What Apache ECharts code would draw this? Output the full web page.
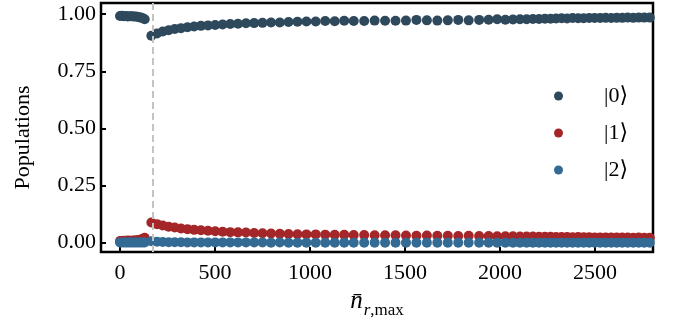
<!DOCTYPE html>
<html>
<head>
<meta charset="utf-8">
<script src="https://cdn.jsdelivr.net/npm/echarts@6/dist/echarts.min.js"></script>
<style>
  html, body { margin: 0; padding: 0; background: #fff; }
  #chart { width: 673px; height: 326px; }
</style>
</head>
<body>
<div id="chart"></div>
<script>
// Mean readout photon number (x) for each measurement
const nBar = [
  0, 10, 20, 30, 40, 50, 60, 70, 80, 90, 100, 110, 120, 130,
  165, 195, 225, 256, 288, 321, 355, 390, 426, 463, 501, 540, 580, 621, 663, 706,
  750, 795, 841, 887, 934, 981, 1030, 1080, 1130, 1180, 1230, 1285, 1340, 1395,
  1450, 1505, 1560, 1615, 1670, 1725, 1780, 1835, 1890, 1940, 1985, 2028, 2068,
  2105, 2140, 2173, 2205, 2236, 2266, 2295, 2324, 2353, 2382, 2411, 2440, 2469,
  2498, 2527, 2556, 2585, 2614, 2643, 2672, 2701, 2730, 2759, 2788
];

// Population of |0>
const pop0 = [
  0.992, 0.993, 0.991, 0.992, 0.990, 0.991, 0.991, 0.990, 0.990, 0.989, 0.987, 0.985, 0.982, 0.978,
  0.906, 0.916, 0.924, 0.930, 0.935, 0.939, 0.943, 0.946, 0.949, 0.951, 0.953, 0.955, 0.957, 0.958,
  0.960, 0.961, 0.962, 0.964, 0.964, 0.966, 0.967, 0.968, 0.968, 0.970, 0.969, 0.971, 0.970, 0.970,
  0.972, 0.971, 0.971, 0.972, 0.975, 0.973, 0.972, 0.973, 0.975, 0.973, 0.975, 0.976, 0.978, 0.976,
  0.977, 0.978, 0.978, 0.979, 0.979, 0.980, 0.980, 0.981, 0.982, 0.981, 0.983, 0.982, 0.982, 0.983,
  0.983, 0.983, 0.984, 0.983, 0.984, 0.984, 0.985, 0.984, 0.985, 0.985, 0.985
];

// Population of |1>
const pop1 = [
  0.007, 0.006, 0.008, 0.007, 0.009, 0.008, 0.008, 0.009, 0.009, 0.010, 0.012, 0.014, 0.017, 0.021,
  0.088, 0.081, 0.075, 0.070, 0.066, 0.062, 0.059, 0.056, 0.054, 0.052, 0.050, 0.048, 0.046, 0.045,
  0.044, 0.042, 0.041, 0.040, 0.039, 0.038, 0.037, 0.036, 0.036, 0.035, 0.034, 0.034, 0.033, 0.033,
  0.032, 0.032, 0.032, 0.031, 0.030, 0.031, 0.030, 0.030, 0.029, 0.030, 0.029, 0.029, 0.028, 0.028,
  0.028, 0.027, 0.027, 0.027, 0.026, 0.026, 0.026, 0.025, 0.025, 0.025, 0.024, 0.025, 0.024, 0.024,
  0.023, 0.023, 0.023, 0.022, 0.023, 0.022, 0.022, 0.021, 0.022, 0.021, 0.021
];

// Population of |2>
const pop2 = [
  0.001, 0.001, 0.001, 0.001, 0.001, 0.001, 0.001, 0.001, 0.001, 0.001, 0.001, 0.001, 0.001, 0.001,
  0.006, 0.004, 0.003, 0.002, 0.002, 0.002, 0.001, 0.001, 0.001, 0.001, 0.001, 0.001, 0.001, 0.001,
  0.001, 0.001, 0.001, 0.000, 0.001, 0.000, 0.000, 0.000, 0.000, 0.000, 0.000, 0.000, 0.000, 0.000,
  0.000, 0.000, 0.000, 0.000, 0.000, 0.000, 0.000, 0.000, 0.000, 0.000, 0.000, 0.000, 0.000, 0.000,
  0.000, 0.000, 0.000, 0.000, 0.000, 0.000, 0.000, 0.000, 0.000, 0.000, 0.000, 0.000, 0.000, 0.000,
  0.000, 0.000, 0.000, 0.000, 0.000, 0.000, 0.000, 0.000, 0.000, 0.000, 0.000
];

const stateNames = ['|0\u27E9', '|1\u27E9', '|2\u27E9'];
const xTicks = [0, 500, 1000, 1500, 2000, 2500];
const yTicks = [0, 0.25, 0.5, 0.75, 1.0];
const thresholdN = 170;

const colors = ['#2e485c', '#a52628', '#336b94'];
const serif = '"Liberation Serif", "DejaVu Serif", serif';

const pairs = (ys) => nBar.map((x, i) => [x, ys[i]]);

const chart = echarts.init(document.getElementById('chart'), null, { renderer: 'canvas' });

chart.setOption({
  animation: false,
  backgroundColor: '#ffffff',
  grid: {
    left: 101, right: 20, top: 3, bottom: 74,
    show: true, borderColor: '#000', borderWidth: 2.5, backgroundColor: 'transparent'
  },
  legend: {
    orient: 'vertical',
    left: 549, top: 80,
    icon: 'circle',
    itemWidth: 9, itemHeight: 9,
    itemGap: 15,
    data: stateNames,
    textStyle: {
      fontFamily: serif, fontSize: 22, color: '#000',
      lineHeight: 22, padding: [0, 0, 0, 36]
    }
  },
  xAxis: {
    type: 'value',
    min: -100, max: 2805,
    name: '{n|n\u0304}{s|r}{t|,max}',
    nameLocation: 'middle',
    nameGap: 36,
    nameTextStyle: {
      rich: {
        n: { fontFamily: serif, fontStyle: 'italic', fontSize: 25, lineHeight: 26, verticalAlign: 'top', color: '#000' },
        s: { fontFamily: serif, fontStyle: 'italic', fontSize: 17, lineHeight: 17, padding: [13, 0, 0, 1], verticalAlign: 'top', color: '#000' },
        t: { fontFamily: serif, fontSize: 17, lineHeight: 17, padding: [13, 0, 0, 0], verticalAlign: 'top', color: '#000' }
      }
    },
    axisLine: { show: false, onZero: false },
    splitLine: { show: false },
    axisTick: { show: true, inside: true, length: 5, customValues: xTicks, lineStyle: { color: '#000', width: 2 } },
    axisLabel: {
      customValues: xTicks, margin: 10,
      fontFamily: serif, fontSize: 22, color: '#000',
      formatter: (v) => String(v)
    }
  },
  yAxis: {
    type: 'value',
    min: -0.041, max: 1.049,
    name: 'Populations',
    nameLocation: 'middle',
    nameGap: 67,
    nameTextStyle: { fontFamily: serif, fontSize: 22, color: '#000', padding: [0, 20, 0, 0] },
    axisLine: { show: false, onZero: false },
    splitLine: { show: false },
    axisTick: { show: true, inside: true, length: 5, customValues: yTicks, lineStyle: { color: '#000', width: 2 } },
    axisLabel: {
      customValues: yTicks, margin: 5,
      fontFamily: serif, fontSize: 22, color: '#000',
      formatter: (v) => v.toFixed(2)
    }
  },
  series: [
    {
      name: stateNames[0], type: 'scatter', data: pairs(pop0),
      symbolSize: 10, itemStyle: { color: colors[0], opacity: 1 },
      markLine: {
        silent: true, symbol: 'none', label: { show: false },
        lineStyle: { color: '#c4c4c4', width: 2, type: [7, 4] },
        data: [{ xAxis: thresholdN }],
        z: 10
      }
    },
    { name: stateNames[1], type: 'scatter', data: pairs(pop1), symbolSize: 10, itemStyle: { color: colors[1], opacity: 1 } },
    { name: stateNames[2], type: 'scatter', data: pairs(pop2), symbolSize: 10, itemStyle: { color: colors[2], opacity: 1 } }
  ]
});
</script>
</body>
</html>
